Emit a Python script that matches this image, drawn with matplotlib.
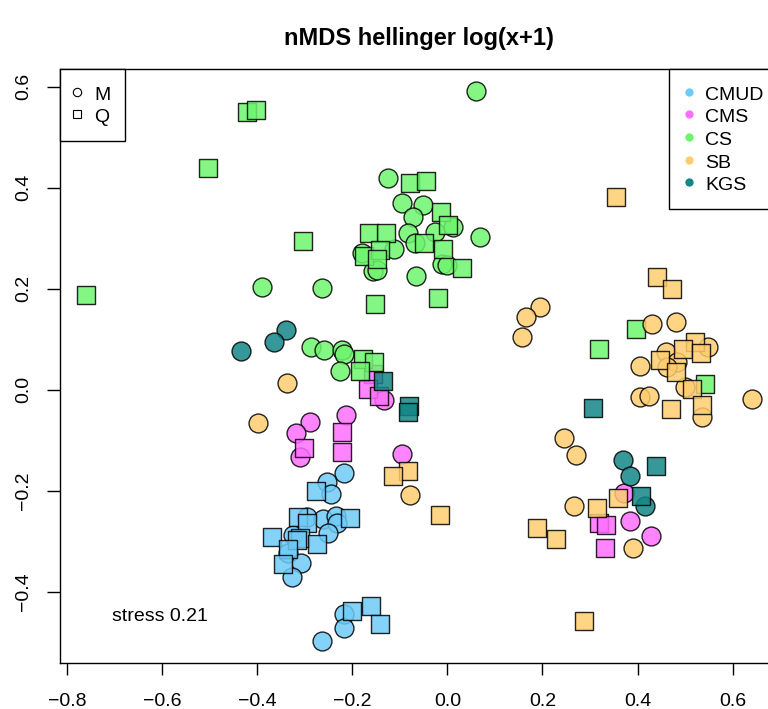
import matplotlib
matplotlib.use("Agg")
import matplotlib.pyplot as plt
from matplotlib.lines import Line2D

plt.rcParams["font.family"] = ["Liberation Sans", "DejaVu Sans"]

# координаты nMDS: M - кружки, Q - квадраты
cmud_m_x = [-0.2175, -0.2526, -0.2448, -0.2947, -0.2610, -0.2343, -0.2329, -0.2505,
            -0.3242, -0.3347, -0.3080, -0.3275, -0.2175, -0.2175, -0.2644]
cmud_m_y = [-0.1655, -0.1822, -0.2065, -0.2515, -0.2566, -0.2501, -0.2646, -0.2844,
            -0.2877, -0.3240, -0.3438, -0.3703, -0.4442, -0.4713, -0.4976]
cmud_q_x = [-0.2764, -0.3136, -0.2947, -0.2049, -0.3683, -0.3101, -0.3170, -0.2749,
            -0.3347, -0.3464, -0.2007, -0.1613, -0.1418]
cmud_q_y = [-0.2006, -0.2527, -0.2646, -0.2535, -0.2923, -0.2931, -0.2976, -0.3055,
            -0.3160, -0.3451, -0.4376, -0.4277, -0.4640]

cms_m_x = [-0.1334, -0.2890, -0.2139, -0.3185, -0.3101, -0.0955, 0.3721, 0.3841, 0.4276]
cms_m_y = [-0.0204, -0.0634, -0.0501, -0.0851, -0.1327, -0.1279, -0.2051, -0.2594, -0.2891]
cms_q_x = [-0.1559, -0.1676, -0.1432, -0.2211, -0.3010, -0.2211, 0.3189, 0.3336, 0.3315]
cms_q_y = [0.0311, 0.0008, -0.0125, -0.0832, -0.1149, -0.1240, -0.2646, -0.2679, -0.3129]

cs_m_x = [0.0602, -0.3906, -0.2638, -0.1256, -0.0961, -0.0520, -0.0717, 0.0124,
          -0.0822, -0.0261, 0.0686, -0.0682, -0.1803, -0.1123, -0.0120, -0.0015,
          -0.1559, -0.1475, -0.0660, -0.2875, -0.2589, -0.2223, -0.2169, -0.2259]
cs_m_y = [0.5915, 0.2040, 0.2014, 0.4198, 0.3703, 0.3657, 0.3426, 0.3216,
          0.3097, 0.3129, 0.3018, 0.2911, 0.2713, 0.2780, 0.2489, 0.2469,
          0.2356, 0.2370, 0.2257, 0.0851, 0.0786, 0.0786, 0.0701, 0.0376]
cs_q_x = [-0.4215, -0.4026, -0.5042, -0.3044, -0.7596, -0.0780, -0.0450, -0.0128,
          0.0019, -0.1643, -0.1292, -0.0492, -0.1754, -0.1418, -0.1487, -0.0099,
          0.0313, -0.1523, -0.0198, -0.1782, -0.1544, -0.1838, 0.3967, 0.3195, 0.5419]
cs_q_y = [0.5499, 0.5539, 0.4396, 0.2950, 0.1869, 0.4087, 0.4139, 0.3525,
          0.3261, 0.3109, 0.3097, 0.2899, 0.2648, 0.2766, 0.2582, 0.2780,
          0.2416, 0.1697, 0.1816, 0.0602, 0.0554, 0.0376, 0.1202, 0.0806, 0.0113]

sb_m_x = [-0.3368, -0.3990, -0.0787, 0.1948, 0.1647, 0.1576, 0.4297, 0.4802,
          0.5488, 0.4592, 0.4836, 0.4051, 0.4613, 0.4998, 0.4051, 0.4247,
          0.6401, 0.5349, 0.2453, 0.2705, 0.2669, 0.3910]
sb_m_y = [0.0127, -0.0665, -0.2085, 0.1632, 0.1434, 0.1050, 0.1301, 0.1347,
          0.0851, 0.0752, 0.0554, 0.0475, 0.0455, 0.0048, -0.0139, -0.0125,
          -0.0190, -0.0547, -0.0962, -0.1293, -0.2303, -0.3129]
sb_q_x = [-0.0829, -0.1144, -0.0156, 0.3547, 0.4415, 0.4718, 0.5208, 0.4950,
          0.5328, 0.4472, 0.4809, 0.5139, 0.4710, 0.5362, 0.3582, 0.3153,
          0.1878, 0.2284, 0.2873]
sb_q_y = [-0.1610, -0.1709, -0.2481, 0.3810, 0.2238, 0.1988, 0.0939, 0.0800,
          0.0733, 0.0588, 0.0356, 0.0014, -0.0376, -0.0297, -0.2139, -0.2337,
          -0.2733, -0.2956, -0.4574]

kgs_m_x = [-0.3395, -0.3641, -0.4342, 0.3700, 0.3835, 0.4156]
kgs_m_y = [0.1182, 0.0939, 0.0772, -0.1392, -0.1709, -0.2303]
kgs_q_x = [-0.1348, -0.0808, -0.0822, 0.3056, 0.4382, 0.4072]
kgs_q_y = [0.0178, -0.0323, -0.0436, -0.0356, -0.1505, -0.2099]

groups = ["CMUD", "CMS", "CS", "SB", "KGS"]
colors = ["#6ECBF7", "#FF6EFF", "#6EF56E", "#FFCD70", "#138686"]
stress = 0.21

data = {
    "CMUD": (cmud_m_x, cmud_m_y, cmud_q_x, cmud_q_y),
    "CMS": (cms_m_x, cms_m_y, cms_q_x, cms_q_y),
    "CS": (cs_m_x, cs_m_y, cs_q_x, cs_q_y),
    "SB": (sb_m_x, sb_m_y, sb_q_x, sb_q_y),
    "KGS": (kgs_m_x, kgs_m_y, kgs_q_x, kgs_q_y),
}

fs = 14

fig = plt.figure(figsize=(7.68, 7.09), dpi=100)
# ось шире картинки - правый край обрезан, как в исходном графике
ax = fig.add_axes([0.0781, 0.0653, 0.9353, 0.8374])

for g, col in zip(groups, colors):
    mx, my, qx, qy = data[g]
    ax.scatter(mx, my, s=185, marker="o", facecolor=col, alpha=0.85,
               edgecolor="black", linewidth=1.0, zorder=3)
    ax.scatter(qx, qy, s=150, marker="s", facecolor=col, alpha=0.85,
               edgecolor="black", linewidth=1.0, zorder=3)

ax.set_xlim(-0.8149, 0.696)
ax.set_ylim(-0.5406, 0.635)
ax.set_xticks([-0.8, -0.6, -0.4, -0.2, 0.0, 0.2, 0.4, 0.6])
ax.set_yticks([-0.4, -0.2, 0.0, 0.2, 0.4, 0.6])
ax.set_xticklabels(["\u22120.8", "\u22120.6", "\u22120.4", "\u22120.2", "0.0", "0.2", "0.4", "0.6"])
ax.set_yticklabels(["\u22120.4", "\u22120.2", "0.0", "0.2", "0.4", "0.6"])
ax.tick_params(axis="x", length=8.4, width=1.0, pad=13.5, labelsize=fs)
ax.tick_params(axis="y", length=9.4, width=1.0, pad=10.5, labelsize=fs)
for lab in ax.get_yticklabels():
    lab.set_rotation(90)
    lab.set_va("center")
for sp in ax.spines.values():
    sp.set_linewidth(1.0)

ax.set_title("nMDS hellinger log(x+1)", fontsize=17, fontweight="bold", pad=17.5)
ax.text(-0.706, -0.450, f"stress {stress}", fontsize=fs, ha="left", va="center")

# легенда по типу образцов
shape_handles = [
    Line2D([], [], linestyle="none", marker="o", markersize=6, markerfacecolor="none",
           markeredgecolor="black", markeredgewidth=0.8, label="M"),
    Line2D([], [], linestyle="none", marker="s", markersize=6, markerfacecolor="none",
           markeredgecolor="black", markeredgewidth=0.8, label="Q"),
]
leg1 = ax.legend(handles=shape_handles, loc="upper left", bbox_to_anchor=(0, 1),
                 borderaxespad=0, fontsize=fs, fancybox=False, framealpha=1,
                 edgecolor="black", borderpad=0.75, handlelength=0.3,
                 handleheight=1.1, handletextpad=0.7, labelspacing=0.14)
leg1.get_frame().set_linewidth(1.0)
ax.add_artist(leg1)

# легенда по группам
group_handles = [
    Line2D([], [], linestyle="none", marker="o", markersize=6, markerfacecolor=c,
           markeredgecolor="none", label=g)
    for g, c in zip(groups, colors)
]
leg2 = ax.legend(handles=group_handles, loc="upper left", bbox_to_anchor=(0.848, 1),
                 borderaxespad=0, fontsize=fs, fancybox=False, framealpha=1,
                 edgecolor="black", borderpad=0.75, handlelength=0.55,
                 handleheight=1.1, handletextpad=0.55, labelspacing=0.14)
leg2.get_frame().set_linewidth(1.0)

fig.savefig("out.png", dpi=100)
